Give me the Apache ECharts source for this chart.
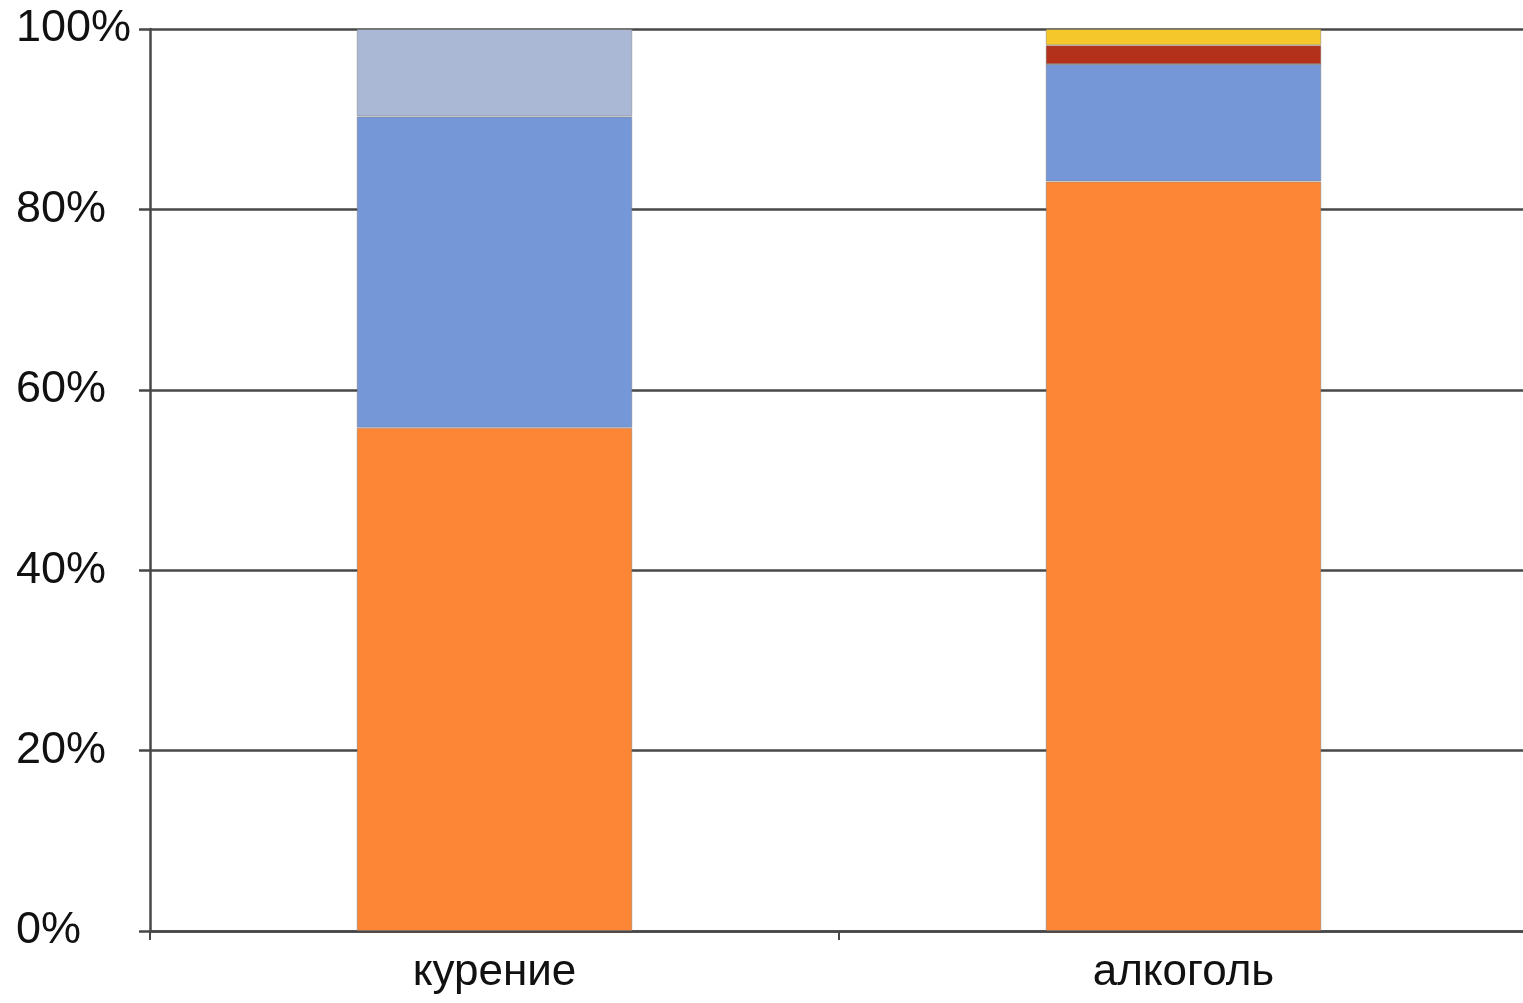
<!DOCTYPE html>
<html>
<head>
<meta charset="utf-8">
<script src="https://cdn.jsdelivr.net/npm/echarts@6/dist/echarts.min.js"></script>
<style>
html,body{margin:0;padding:0;background:#fff;overflow:hidden;}
#chart{width:1528px;height:1003px;}
</style>
</head>
<body>
<div id="chart"></div>
<script>
const categories = ['курение', 'алкоголь'];
const orangeValues = [55.8, 83.1];
const blueValues = [34.5, 13.0];
const lightBlueValues = [9.7, 0];
const redValues = [0, 2.1];
const yellowValues = [0, 1.8];
const yTicks = [0, 20, 40, 60, 80, 100];

const seriesDefs = [
  { name: 's1', data: orangeValues, color: '#FC8636' },
  { name: 's2', data: blueValues, color: '#7597D7' },
  { name: 's3', data: lightBlueValues, color: '#ABB8D5' },
  { name: 's4', data: redValues, color: '#B3301A' },
  { name: 's5', data: yellowValues, color: '#F6C72B' }
];

const chart = echarts.init(document.getElementById('chart'), null, { renderer: 'canvas' });
chart.setOption({
  animation: false,
  backgroundColor: '#fff',
  grid: { left: 150, right: 0, top: 29, bottom: 72, containLabel: false },
  xAxis: {
    type: 'category',
    data: categories,
    axisLine: { lineStyle: { color: '#474747', width: 2.5 } },
    axisTick: { show: true, length: 9, lineStyle: { color: '#474747', width: 2 } },
    axisLabel: { color: '#111', fontSize: 44, fontFamily: 'Liberation Sans, Arial, sans-serif', margin: 20 }
  },
  yAxis: {
    type: 'value',
    min: yTicks[0],
    max: yTicks[yTicks.length - 1],
    interval: 20,
    axisLine: { show: true, lineStyle: { color: '#474747', width: 2.5 } },
    axisTick: { show: true, length: 11, lineStyle: { color: '#474747', width: 2.5 } },
    splitLine: { show: true, lineStyle: { color: '#474747', width: 2.5 } },
    axisLabel: {
      color: '#111', fontSize: 45, fontFamily: 'Liberation Sans, Arial, sans-serif',
      align: 'left', margin: 134,
      formatter: v => v + '%'
    }
  },
  series: seriesDefs.map(s => ({
    name: s.name,
    type: 'bar',
    stack: 'total',
    barWidth: '40%',
    data: s.data,
    itemStyle: { color: s.color, borderColor: 'rgba(120,120,120,0.45)', borderWidth: 1 },
    z: 3
  }))
});
</script>
</body>
</html>
